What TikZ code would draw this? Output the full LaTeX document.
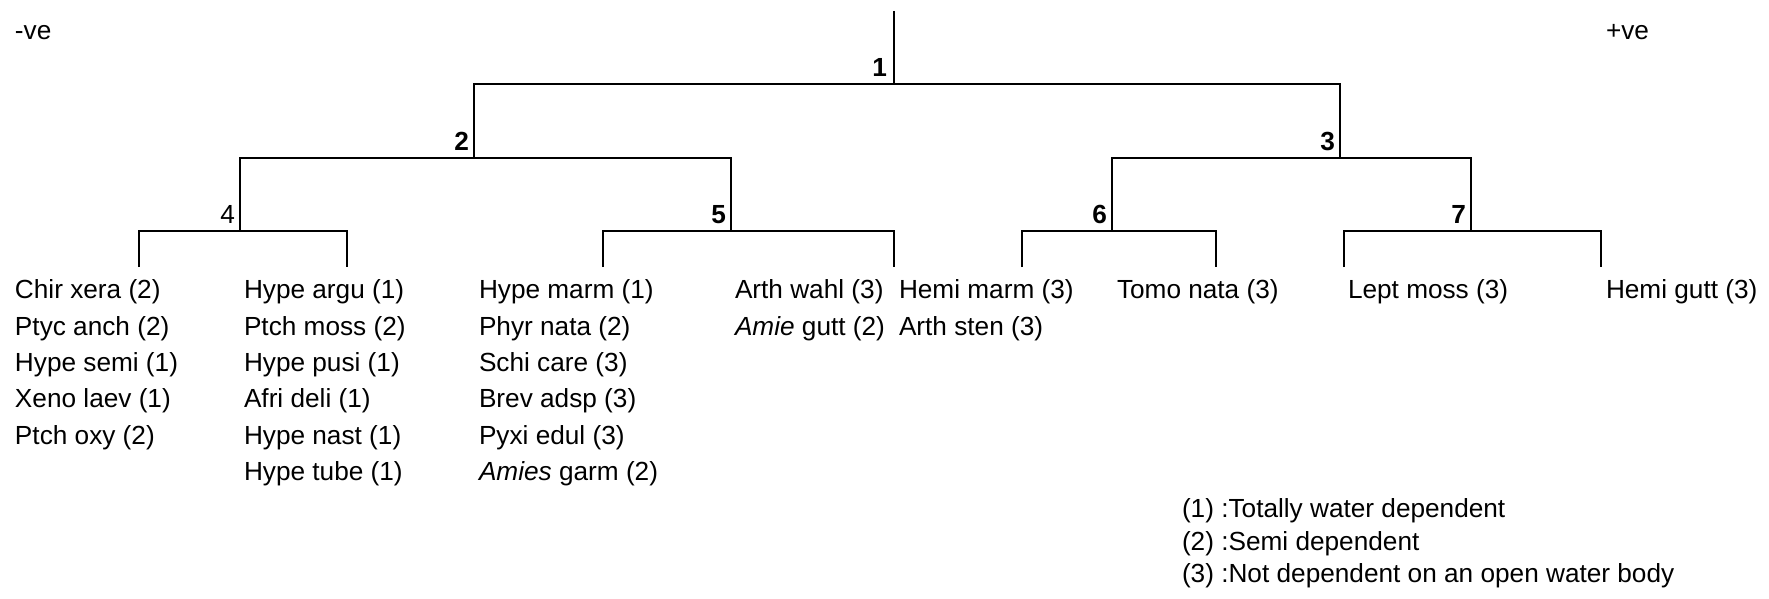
\documentclass[tikz,border=0pt]{standalone}
\usepackage{fontspec}
\setmainfont{Liberation Sans}
\usetikzlibrary{positioning}

\begin{document}
\begin{tikzpicture}[x=0.5pt,y=-0.5pt,line width=1pt,
        every node/.style={inner sep=0pt,font=\fontsize{13.1}{18.15}\selectfont},
        split/.style={font=\fontsize{13.1}{18.15}\selectfont\bfseries},
        taxa/.style={anchor=north west,align=left},
        key/.style={anchor=north west,align=left,font=\fontsize{13.1}{16.25}\selectfont}]
    \useasboundingbox (0,0) rectangle (1769,599);

    % junctions of the tree
    \coordinate (top) at (894,11);
    \coordinate (n1) at (894,84);
    \coordinate (n2) at (474,158);
    \coordinate (n3) at (1340,158);
    \coordinate (n4) at (240,231);
    \coordinate (n5) at (731,231);
    \coordinate (n6) at (1112,231);
    \coordinate (n7) at (1471,231);
    \coordinate (l1) at (139,267);
    \coordinate (l2) at (347,267);
    \coordinate (l3) at (603,267);
    \coordinate (l4) at (894,267);
    \coordinate (l5) at (1022,267);
    \coordinate (l6) at (1216,267);
    \coordinate (l7) at (1344,267);
    \coordinate (l8) at (1601,267);

    \draw (top) -- (n1);
    \draw (n2) |- (n1) -| (n3);
    \draw (n4) |- (n2) -| (n5);
    \draw (n6) |- (n3) -| (n7);
    \draw (l1) |- (n4) -| (l2);
    \draw (l3) |- (n5) -| (l4);
    \draw (l5) |- (n6) -| (l6);
    \draw (l7) |- (n7) -| (l8);

    \node [split, above left=3pt and 3pt of n1] (k1) {1};
    \node [split, above left=3pt and 2pt of n2] (k2) {2};
    \node [split, above left=3pt and 2pt of n3] (k3) {3};
    \node [above left=3pt and 2pt of n4]        (k4) {4};
    \node [split, above left=3pt and 2pt of n5] (k5) {5};
    \node [split, above left=3pt and 2pt of n6] (k6) {6};
    \node [split, above left=3pt and 2pt of n7] (k7) {7};

    \node [anchor=base west] (neg) at (14,40) {-ve};
    \node [anchor=base west] (pos) at (1605,40) {+ve};

    % species under each branch
    \node [taxa] (c1) at (14,279)  {Chir xera (2)\\Ptyc anch (2)\\Hype semi (1)\\Xeno laev (1)\\Ptch oxy (2)};
    \node [taxa] (c2) at (243,279) {Hype argu (1)\\Ptch moss (2)\\Hype pusi (1)\\Afri deli (1)\\Hype nast (1)\\Hype tube (1)};
    \node [taxa] (c3) at (478,279) {Hype marm (1)\\Phyr nata (2)\\Schi care (3)\\Brev adsp (3)\\Pyxi edul (3)\\\textit{Amies} garm (2)};
    \node [taxa] (c4) at (734,279) {Arth wahl (3)\\\textit{Amie} gutt (2)};
    \node [taxa] (c5) at (898,279) {Hemi marm (3)\\Arth sten (3)};
    \node [taxa] (c6) at (1116,279) {Tomo nata (3)};
    \node [taxa] (c7) at (1347,279) {Lept moss (3)};
    \node [taxa] (c8) at (1605,279) {Hemi gutt (3)};

    \node [key] (legend) at (1181,498) {(1) :Totally water dependent\\(2) :Semi dependent\\(3) :Not dependent on an open water body};
\end{tikzpicture}
\end{document}
